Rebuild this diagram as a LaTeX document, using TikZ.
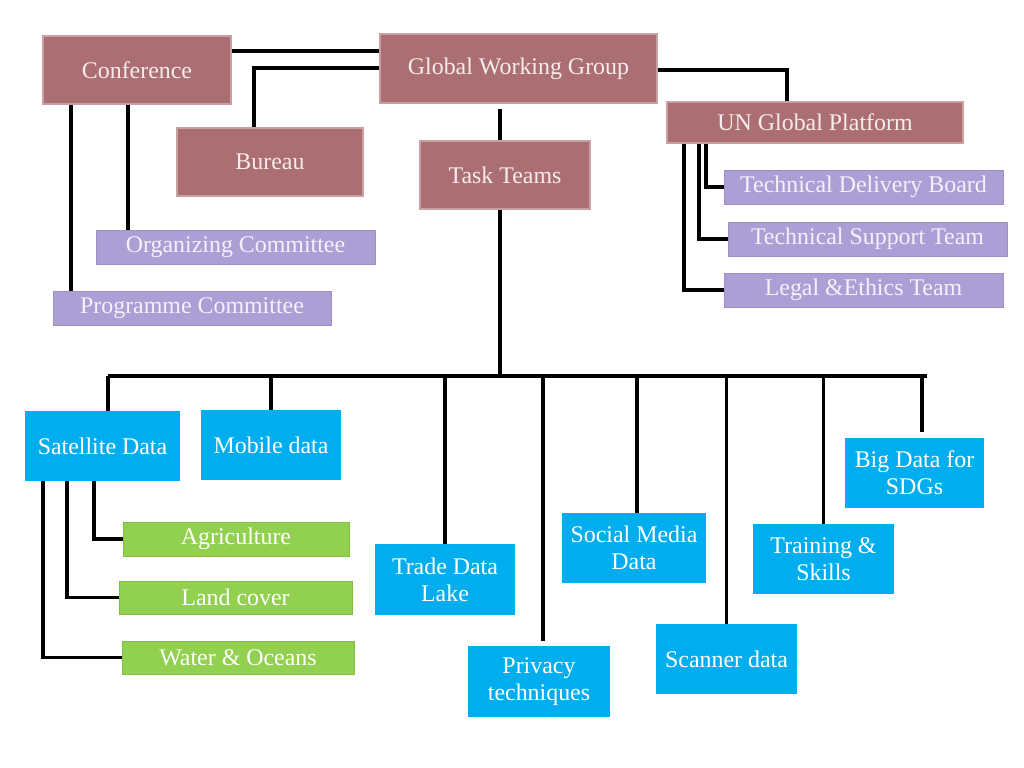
\documentclass[tikz,border=0pt]{standalone}
\usepackage{fontspec}
\setmainfont{Liberation Serif}
\usepackage{tikz}
\usetikzlibrary{positioning}
\definecolor{maroon}{HTML}{AB6F73}
\definecolor{maroonedge}{HTML}{C9A0A2}
\definecolor{lavender}{HTML}{AB9FD5}
\definecolor{lavedge}{HTML}{9C90C4}
\definecolor{skyblue}{HTML}{00AEEF}
\definecolor{leafgreen}{HTML}{92D050}
\definecolor{leafedge}{HTML}{84BC48}
\definecolor{palepink}{HTML}{F7ECEC}
\definecolor{palelilac}{HTML}{F5F1FB}
\tikzset{
  boxtext/.style={font=\fontsize{17}{19.2}\selectfont,align=center,inner sep=0pt},
  bodybox/.style={boxtext,draw=maroonedge,fill=maroon,line width=1.2pt,text=palepink},
  teambox/.style={boxtext,draw=lavedge,fill=lavender,line width=0.6pt,text=palelilac},
  topicbox/.style={boxtext,fill=skyblue,text=white},
  themebox/.style={boxtext,draw=leafedge,fill=leafgreen,line width=0.6pt,text=white},
  link/.style={line width=2.4pt,black}
}
\begin{document}
\begin{tikzpicture}[x=0.025cm,y=-0.025cm]
  \useasboundingbox (0,0) rectangle (1024,768);

  % governance
  \node[bodybox,minimum width=4.7cm,minimum height=1.7cm] (conf) at (137,70) {Conference};
  \node[bodybox,minimum width=6.925cm,minimum height=1.725cm] (gwg) at (518.5,68.5) {Global Working Group};
  \node[bodybox,minimum width=7.4cm,minimum height=1.025cm] (ungp) at (815,122.5) {UN Global Platform};
  \node[bodybox,minimum width=4.65cm,minimum height=1.7cm] (bureau) at (270,162) {Bureau};
  \node[bodybox,minimum width=4.25cm,minimum height=1.7cm] (task) at (505,175) {Task Teams};

  \node[teambox,minimum width=6.975cm,minimum height=0.85cm] (tdb) at (863.5,187) {Technical Delivery Board};
  \node[teambox,minimum width=6.975cm,minimum height=0.85cm] (tst) at (867.5,239) {Technical Support Team};
  \node[teambox,minimum width=6.975cm,minimum height=0.85cm] (legal) at (863.5,290) {Legal \&Ethics Team};
  \node[teambox,minimum width=6.975cm,minimum height=0.85cm] (orgc) at (235.5,247) {Organizing Committee};
  \node[teambox,minimum width=6.95cm,minimum height=0.85cm] (progc) at (192,308) {Programme Committee};

  % task teams
  \node[topicbox,minimum width=3.875cm,minimum height=1.75cm] (sat) at (102.5,446) {Satellite Data};
  \node[topicbox,minimum width=3.5cm,minimum height=1.75cm] (mobile) at (271,445) {Mobile data};
  \node[topicbox,minimum width=3.5cm,minimum height=1.775cm] (trade) at (445,579.5) {Trade Data\\Lake};
  \node[topicbox,minimum width=3.55cm,minimum height=1.775cm] (privacy) at (539,681.5) {Privacy\\techniques};
  \node[topicbox,minimum width=3.6cm,minimum height=1.75cm] (social) at (634,548) {Social Media\\Data};
  \node[topicbox,minimum width=3.525cm,minimum height=1.75cm] (scanner) at (726.5,659) {Scanner data};
  \node[topicbox,minimum width=3.525cm,minimum height=1.75cm] (training) at (823.5,559) {Training \&\\Skills};
  \node[topicbox,minimum width=3.475cm,minimum height=1.75cm] (bigdata) at (914.5,473) {Big Data for\\SDGs};

  \node[themebox,minimum width=5.65cm,minimum height=0.85cm] (agri) at (236,539) {Agriculture};
  \node[themebox,minimum width=5.825cm,minimum height=0.825cm] (land) at (235.5,597.5) {Land cover};
  \node[themebox,minimum width=5.8cm,minimum height=0.825cm] (water) at (238,657.5) {Water \& Oceans};

  % elbow points
  \coordinate (confgwg) at (305,51);
  \coordinate (bureauup) at (254,68);
  \coordinate (confa) at (71,0);
  \coordinate (confb) at (128,0);
  \coordinate (gwgright) at (787,70);
  \coordinate (spine) at (500,376);
  \coordinate (busL) at (108,376);
  \coordinate (busR) at (927,376);
  \coordinate (ungpa) at (706,0);
  \coordinate (ungpb) at (699,0);
  \coordinate (ungpc) at (684,0);
  \coordinate (sata) at (94,0);
  \coordinate (satb) at (67,0);
  \coordinate (satc) at (43,0);

  \draw[link] (conf.east |- confgwg) -- (gwg.west |- confgwg);
  \draw[link] (bureau.north -| bureauup) |- (gwg.west |- bureauup);
  \draw[link] (conf.south -| confa) -- (progc.north -| confa);
  \draw[link] (conf.south -| confb) -- (orgc.north -| confb);
  \draw[link] (gwg.east |- gwgright) -| (ungp.north -| gwgright);
  \draw[link,shorten <=0.12cm] (gwg.south -| spine) -- (task.north -| spine);
  \draw[link] (task.south -| spine) -- (spine);

  \draw[link] (ungp.south -| ungpa) |- (tdb.west);
  \draw[link] (ungp.south -| ungpb) |- (tst.west);
  \draw[link] (ungp.south -| ungpc) |- (legal.west);

  \draw[link] (busL) -- (busR);
  \draw[link] (busL) -- (busL |- sat.north);
  \draw[link] (mobile.north |- busL) -- (mobile.north);
  \draw[link] (trade.north |- busL) -- (trade.north);
  \draw[link,shorten >=0.12cm] ([xshift=0.1cm]privacy.north |- busL) -- ([xshift=0.1cm]privacy.north);
  \draw[link] ([xshift=0.075cm]social.north |- busL) -- ([xshift=0.075cm]social.north);
  \draw[link] (scanner.north |- busL) -- (scanner.north);
  \draw[link] (training.north |- busL) -- (training.north);
  \draw[link,shorten >=0.15cm] ([xshift=0.19cm]bigdata.north |- busL) -- ([xshift=0.19cm]bigdata.north);

  \draw[link] (sat.south -| sata) |- (agri.west);
  \draw[link] (sat.south -| satb) |- (land.west);
  \draw[link] (sat.south -| satc) |- (water.west);
\end{tikzpicture}
\end{document}
